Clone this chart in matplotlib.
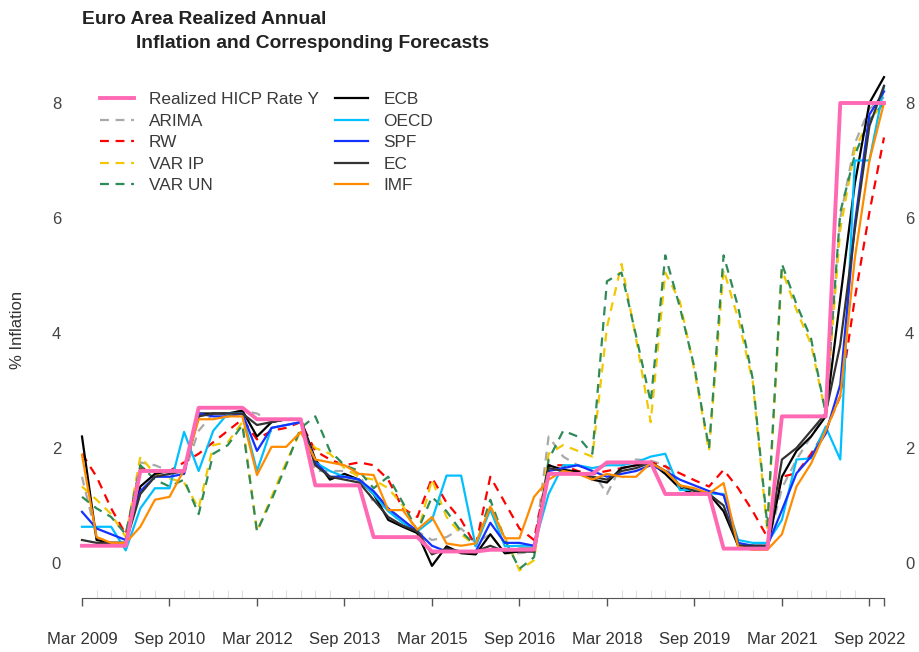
import matplotlib.pyplot as plt
import numpy as np

plt.rcParams['font.family'] = ['Liberation Sans', 'DejaVu Sans']

# quarterly observations, Mar 2009 .. Dec 2022
realized = [0.3, 0.3, 0.3, 0.3, 1.6, 1.6, 1.6, 1.6, 2.7, 2.7, 2.7, 2.7,
            2.5, 2.5, 2.5, 2.5, 1.35, 1.35, 1.35, 1.35, 0.45, 0.45, 0.45, 0.45,
            0.2, 0.2, 0.2, 0.2, 0.23, 0.23, 0.23, 0.23, 1.55, 1.55, 1.55, 1.55,
            1.75, 1.75, 1.75, 1.75, 1.2, 1.2, 1.2, 1.2, 0.25, 0.25, 0.25, 0.25,
            2.55, 2.55, 2.55, 2.55, 8.0, 8.0, 8.0, 8.0]
arima = [1.5, 0.45, 0.35, 0.35, 1.75, 1.7, 1.6, 1.55, 2.3, 2.6, 2.6, 2.65,
         2.6, 2.45, 2.5, 2.5, 1.6, 1.6, 1.6, 1.55, 1.05, 0.95, 0.65, 0.55,
         0.4, 0.45, 0.6, 0.35, 0.5, 0.17, 0.17, 0.2, 2.2, 1.85, 1.7, 1.6,
         1.2, 1.7, 1.8, 1.78, 1.7, 1.3, 1.25, 1.2, 1.2, 0.3, 0.3, 0.3,
         1.3, 1.8, 2.2, 2.6, 6.0, 7.3, 7.9, 8.1]
rw = [1.9, 1.5, 0.95, 0.5, 1.65, 1.6, 1.6, 1.75, 1.9, 2.1, 2.3, 2.5,
      2.15, 2.3, 2.35, 2.45, 1.95, 1.8, 1.7, 1.75, 1.7, 1.45, 0.95, 0.8,
      1.48, 1.05, 0.75, 0.3, 1.5, 1.05, 0.6, 0.4, 1.7, 1.7, 1.6, 1.55,
      1.6, 1.65, 1.7, 1.75, 1.68, 1.56, 1.44, 1.33, 1.62, 1.3, 0.9, 0.45,
      1.5, 1.56, 1.9, 2.3, 2.9, 4.6, 6.1, 7.4]
var_ip = [1.33, 1.1, 0.85, 0.45, 1.85, 1.55, 1.47, 1.4, 0.95, 2.05, 2.1, 2.45,
          0.55, 1.15, 1.75, 2.3, 2.0, 1.9, 1.65, 1.5, 1.45, 1.3, 1.0, 0.5,
          1.45, 0.8, 0.5, 0.3, 1.0, 0.45, -0.13, 0.05, 1.9, 2.05, 1.95, 1.85,
          4.1, 5.2, 3.9, 2.45, 5.05, 4.55, 3.35, 1.95, 5.1, 4.25, 3.15, 0.55,
          5.1, 4.4, 3.8, 2.6, 5.8, 7.2, 7.7, 8.0]
var_un = [1.15, 0.95, 0.8, 0.5, 1.7, 1.45, 1.33, 1.45, 0.85, 1.9, 2.05, 2.4,
          0.55, 1.1, 1.7, 2.35, 2.55, 1.95, 1.7, 1.6, 1.3, 1.5, 1.05, 0.55,
          1.15, 0.9, 0.55, 0.3, 1.1, 0.4, -0.1, 0.1, 1.8, 2.3, 2.2, 1.9,
          4.9, 5.05, 3.95, 2.8, 5.35, 4.45, 3.4, 2.0, 5.35, 4.45, 3.2, 0.65,
          5.2, 4.5, 3.9, 2.6, 6.1, 7.1, 7.7, 8.0]
ecb = [2.2, 0.4, 0.35, 0.35, 1.33, 1.55, 1.6, 1.6, 2.6, 2.6, 2.6, 2.65,
       2.2, 2.45, 2.5, 2.5, 1.8, 1.45, 1.55, 1.45, 1.2, 0.75, 0.63, 0.52,
       -0.05, 0.29, 0.17, 0.15, 0.5, 0.17, 0.2, 0.2, 1.7, 1.62, 1.59, 1.45,
       1.4, 1.65, 1.7, 1.75, 1.55, 1.3, 1.2, 1.2, 0.9, 0.3, 0.3, 0.25,
       1.5, 1.95, 2.2, 2.55, 4.6, 6.6, 8.0, 8.45]
oecd = [0.63, 0.63, 0.63, 0.22, 0.95, 1.3, 1.3, 2.28, 1.6, 2.3, 2.6, 2.6,
        1.6, 2.35, 2.4, 2.45, 1.75, 1.6, 1.5, 1.45, 1.2, 0.9, 0.7, 0.55,
        0.75, 1.52, 1.52, 0.29, 0.93, 0.29, 0.3, 0.3, 1.2, 1.7, 1.7, 1.65,
        1.7, 1.7, 1.75, 1.85, 1.9, 1.27, 1.27, 1.21, 1.2, 0.4, 0.35, 0.35,
        0.75, 1.8, 1.82, 2.37, 1.8, 7.0, 7.0, 8.28]
spf = [0.89, 0.6, 0.5, 0.4, 1.25, 1.5, 1.5, 1.55, 2.6, 2.55, 2.55, 2.6,
       1.95, 2.35, 2.4, 2.45, 1.75, 1.5, 1.5, 1.45, 1.25, 0.95, 0.75, 0.55,
       0.3, 0.2, 0.2, 0.2, 0.7, 0.35, 0.35, 0.3, 1.6, 1.65, 1.7, 1.6,
       1.5, 1.55, 1.6, 1.7, 1.6, 1.45, 1.35, 1.25, 1.18, 0.35, 0.3, 0.3,
       0.92, 1.56, 1.85, 2.25, 3.1, 5.9, 7.8, 8.2]
ec = [0.4, 0.35, 0.35, 0.35, 1.2, 1.5, 1.55, 1.6, 2.55, 2.6, 2.6, 2.6,
      2.4, 2.45, 2.5, 2.5, 1.7, 1.5, 1.45, 1.4, 1.1, 0.8, 0.65, 0.55,
      0.15, 0.25, 0.2, 0.2, 0.3, 0.2, 0.25, 0.25, 1.65, 1.6, 1.55, 1.5,
      1.45, 1.6, 1.65, 1.75, 1.6, 1.35, 1.25, 1.2, 1.0, 0.3, 0.3, 0.3,
      1.8, 2.0, 2.3, 2.6, 3.8, 5.8, 7.6, 8.3]
imf = [1.88, 0.45, 0.35, 0.35, 0.63, 1.1, 1.15, 1.62, 2.5, 2.5, 2.55, 2.55,
       1.53, 2.02, 2.02, 2.28, 1.8, 1.75, 1.7, 1.55, 1.53, 0.92, 0.92, 0.58,
       0.8, 0.34, 0.3, 0.34, 0.98, 0.43, 0.43, 1.15, 1.45, 1.6, 1.55, 1.45,
       1.55, 1.5, 1.5, 1.74, 1.6, 1.35, 1.3, 1.21, 1.39, 0.28, 0.23, 0.23,
       0.5, 1.33, 1.73, 2.3, 2.9, 5.3, 7.0, 8.0]

tick_pos = [0, 6, 12, 18, 24, 30, 36, 42, 48, 54, 55]
tick_lab = ["Mar 2009", "Sep 2010", "Mar 2012", "Sep 2013", "Mar 2015",
            "Sep 2016", "Mar 2018", "Sep 2019", "Mar 2021", "Sep 2022", ""]

q = np.arange(len(realized))
dash = (0, (4, 3))

fig = plt.figure(figsize=(9.19, 6.52), dpi=100)
ax = fig.add_axes([75 / 919, 1 - 597.5 / 652, 816 / 919, 540.5 / 652])
ax.set_xlim(-0.48, 55.48)
ax.set_ylim(-0.6, 8.8)

models = [("ARIMA", arima, "#a9a9a9", dash),
          ("RW", rw, "#ff0000", dash),
          ("VAR IP", var_ip, "#f2c800", dash),
          ("VAR UN", var_un, "#2e8b57", dash),
          ("ECB", ecb, "#000000", "-"),
          ("OECD", oecd, "#00bfff", "-"),
          ("SPF", spf, "#1432ff", "-"),
          ("EC", ec, "#333333", "-"),
          ("IMF", imf, "#ff8c00", "-")]

handles = {}
for name, vals, col, ls in models:
    h, = ax.plot(q, vals, color=col, ls=ls, lw=1.6, label=name)
    handles[name] = h
h, = ax.plot(q, realized, color="#ff69b4", lw=2.8, zorder=5,
             label="Realized HICP Rate Y")
handles["Realized HICP Rate Y"] = h

order = ["Realized HICP Rate Y", "ARIMA", "RW", "VAR IP", "VAR UN",
         "ECB", "OECD", "SPF", "EC", "IMF"]
leg = ax.legend([handles[k] for k in order], order, ncol=2, loc="upper left",
                bbox_to_anchor=(100 / 919, 1 - 92 / 652),
                bbox_transform=fig.transFigure, frameon=False, fontsize=12.4,
                handlelength=1.95, handletextpad=0.87, columnspacing=0.95,
                labelspacing=0.38, borderpad=0, borderaxespad=0)
for t in leg.get_texts():
    t.set_color("#3a3a3a")

for s in ["top", "left", "right"]:
    ax.spines[s].set_visible(False)
ax.spines["bottom"].set_bounds(0, 55)
ax.spines["bottom"].set_color("#555555")

ax.set_xticks(tick_pos)
ax.set_xticklabels(tick_lab)
ax.set_xticks(q, minor=True)
ax.tick_params(axis="x", which="major", direction="out", length=6, width=1,
               color="#555555", pad=19, labelsize=12, labelcolor="#333333")
ax.tick_params(axis="x", which="minor", direction="in", length=6, width=0.8,
               color="#e0e0e0")

ax.set_yticks([0, 2, 4, 6, 8])
ax.tick_params(axis="y", length=0, left=True, right=True, labelleft=True,
               labelright=True, pad=10, labelsize=12, labelcolor="#444444")

fig.text(18 / 919, 1 - 330 / 652, "% Inflation", rotation=90, ha="center",
         va="center", fontsize=12, color="#333333")
fig.text(82 / 919, 1 - 19 / 652, "Euro Area Realized Annual",
         fontweight="bold", fontsize=13.9, ha="left", va="center",
         color="#222222")
fig.text(136 / 919, 1 - 44 / 652, "Inflation and Corresponding Forecasts",
         fontweight="bold", fontsize=13.9, ha="left", va="center",
         color="#222222")

fig.savefig("out.png", dpi=100)
